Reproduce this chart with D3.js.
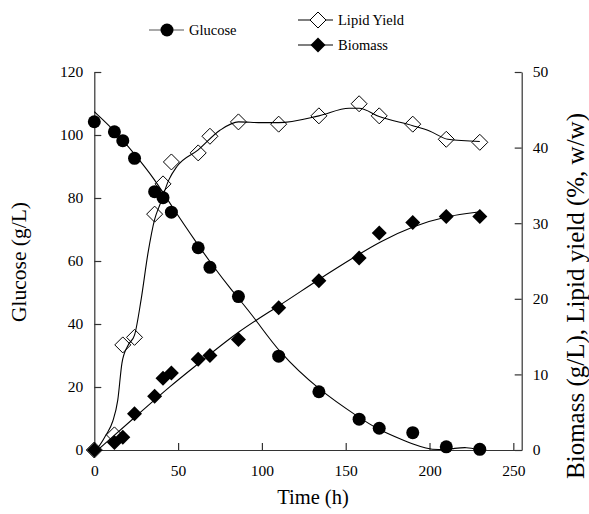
<!DOCTYPE html>
<html lang="en">
    <head>
        <meta charset="utf-8">
        <title>Glucose, biomass and lipid yield</title>
        <script type="text/javascript" src="https://cdn.jsdelivr.net/npm/d3@7"></script>
        <style>
          body{
            margin:0;
            background:white;
          }
        </style>
    </head>
    <body>

      <div id="chart">
      </div>

        <script type="text/javascript">
          // measured points
          var time = [0,12,17,24,36,41,46,62,69,86,110,134,158,170,190,210,230]
          var glucose = [104.2,101,98.2,92.6,82,80.1,75.5,64.2,58,48.7,29.8,18.5,9.8,6.9,5.5,1.0,0.2]
          var lipidYield = [0,2.0,13.9,14.9,31.2,35.2,38.1,39.3,41.5,43.4,43.1,44.2,45.8,44.2,43.1,41.1,40.7]
          var biomass = [0,1.0,1.7,4.8,7.1,9.5,10.2,12.0,12.5,14.6,18.8,22.4,25.4,28.7,30.1,30.9,30.9]

          // fitted curves
          var glucoseFitTime = [0,12,24,36,46,62,70,81,96,110,134,158,170,183,190,198,205,214,222,230]
          var glucoseFit = [107.4,101.5,94,86,77.5,65,59,51.3,41.8,31,19,10.3,6.3,3.4,1.9,0.5,0,0.4,1.0,0]
          var lipidFitTime = [0,2.4,7,11,14,16.5,20,24,28,32,36,39.4,44.4,49.3,62,75,86,100,110,134,152,158,170,190,200,211,230]
          var lipidFit = [0,0.4,2.0,3.8,6.6,11.5,13.8,15.2,20,26,30.5,32.6,35.7,37.5,39.7,42.3,43.4,43.3,43.3,44.2,45.2,45.2,44.1,42.9,42.2,41.1,40.8]
          var biomassFitTime = [2,24,46,62,87,110,134,158,170,190,211,230]
          var biomassFit = [0,4.3,8.6,11.4,15.9,19.0,22.6,25.9,27.5,29.6,31.0,31.5]

          var xTicks = [0,50,100,150,200,250]
          var leftTicks = [0,20,40,60,80,100,120]
          var rightTicks = [0,10,20,30,40,50]

          var serif = "'Liberation Serif','Times New Roman',serif"
          var width = 589
          var height = 514
          var svg = d3.select("#chart").append("svg").attr("width",width).attr("height",height)

          var x = d3.scaleLinear().domain([0,255]).range([94.3,521.7])
          var yLeft = d3.scaleLinear().domain([0,120]).range([450,72])
          var yRight = d3.scaleLinear().domain([0,50]).range([450,72])

          // axes
          svg.append("g").attr("transform","translate(0,450)")
            .call(d3.axisBottom(x).tickValues(xTicks).tickSize(-7).tickPadding(15).tickSizeOuter(0))
          svg.append("g").attr("transform","translate(94.3,0)")
            .call(d3.axisLeft(yLeft).tickValues(leftTicks).tickSize(-7).tickPadding(11).tickSizeOuter(0))
          svg.append("g").attr("transform","translate(521.7,0)")
            .call(d3.axisRight(yRight).tickValues(rightTicks).tickSize(-7).tickPadding(11).tickSizeOuter(0))

          svg.selectAll(".domain").attr("stroke","#333").attr("stroke-width",1.2)
          svg.selectAll(".tick line").attr("stroke","#333").attr("stroke-width",1.2)
          svg.selectAll(".tick text").style("font-size","15.5px").style("font-family",serif).attr("fill","black")

          // axis titles
          svg.append("text").attr("x",313).attr("y",504).attr("text-anchor","middle")
            .style("font-size","20.5px").style("font-family",serif).text("Time (h)")
          svg.append("text").attr("transform","translate(26,262) rotate(-90)").attr("text-anchor","middle")
            .style("font-size","21.5px").style("font-family",serif).text("Glucose (g/L)")
          svg.append("text").attr("transform","translate(584,296) rotate(-90)").attr("text-anchor","middle")
            .style("font-size","25px").style("font-family",serif).text("Biomass (g/L), Lipid yield (%, w/w)")

          // fitted lines
          function drawFit(ts,vs,yScale,curve){
            var pts = ts.map(function(t,i){ return [x(t),yScale(vs[i])] })
            svg.append("path").attr("d",d3.line().curve(curve)(pts))
              .attr("fill","none").attr("stroke","black").attr("stroke-width",1.1)
          }
          drawFit(biomassFitTime,biomassFit,yRight,d3.curveBasis)
          drawFit(lipidFitTime,lipidFit,yRight,d3.curveMonotoneX)
          drawFit(glucoseFitTime,glucoseFit,yLeft,d3.curveBasis)

          var diamond = function(s){ return "M0,"+(-s)+"L"+s+",0L0,"+s+"L"+(-s)+",0Z" }

          // biomass: filled diamonds
          svg.selectAll(".bio")
            .data(time)
            .enter()
            .append("path")
            .attr("class","bio")
            .attr("transform",function(d,i){ return "translate("+x(d)+","+yRight(biomass[i])+")" })
            .attr("d",diamond(7.5))
            .attr("fill","black")

          // lipid yield: open diamonds
          svg.selectAll(".lip")
            .data(time)
            .enter()
            .append("path")
            .attr("class","lip")
            .attr("transform",function(d,i){ return "translate("+x(d)+","+yRight(lipidYield[i])+")" })
            .attr("d",diamond(8))
            .attr("fill","none")
            .attr("stroke","black")
            .attr("stroke-width",1)

          // glucose: filled circles
          svg.selectAll(".glu")
            .data(time)
            .enter()
            .append("circle")
            .attr("class","glu")
            .attr("cx",function(d,i){ return x(d) })
            .attr("cy",function(d,i){ return yLeft(glucose[i]) })
            .attr("r",6.5)
            .attr("fill","black")

          // legend
          var legend = svg.append("g")
          legend.append("line").attr("x1",149).attr("x2",184).attr("y1",30).attr("y2",30).attr("stroke","#555").attr("stroke-width",1.2)
          legend.append("circle").attr("cx",167).attr("cy",30).attr("r",6.5).attr("fill","black")
          legend.append("text").attr("x",189).attr("y",35).style("font-size","14.5px").style("font-family",serif).text("Glucose")

          legend.append("line").attr("x1",298).attr("x2",333).attr("y1",20).attr("y2",20).attr("stroke","black").attr("stroke-width",1.1)
          legend.append("path").attr("transform","translate(318,20)").attr("d",diamond(8)).attr("fill","white").attr("stroke","black")
          legend.append("text").attr("x",338).attr("y",25).style("font-size","14.5px").style("font-family",serif).text("Lipid Yield")

          legend.append("line").attr("x1",298).attr("x2",333).attr("y1",45).attr("y2",45).attr("stroke","black").attr("stroke-width",1.1)
          legend.append("path").attr("transform","translate(318,45)").attr("d",diamond(7.5)).attr("fill","black")
          legend.append("text").attr("x",338).attr("y",50).style("font-size","14.5px").style("font-family",serif).text("Biomass")
        </script>
    </body>
</html>
